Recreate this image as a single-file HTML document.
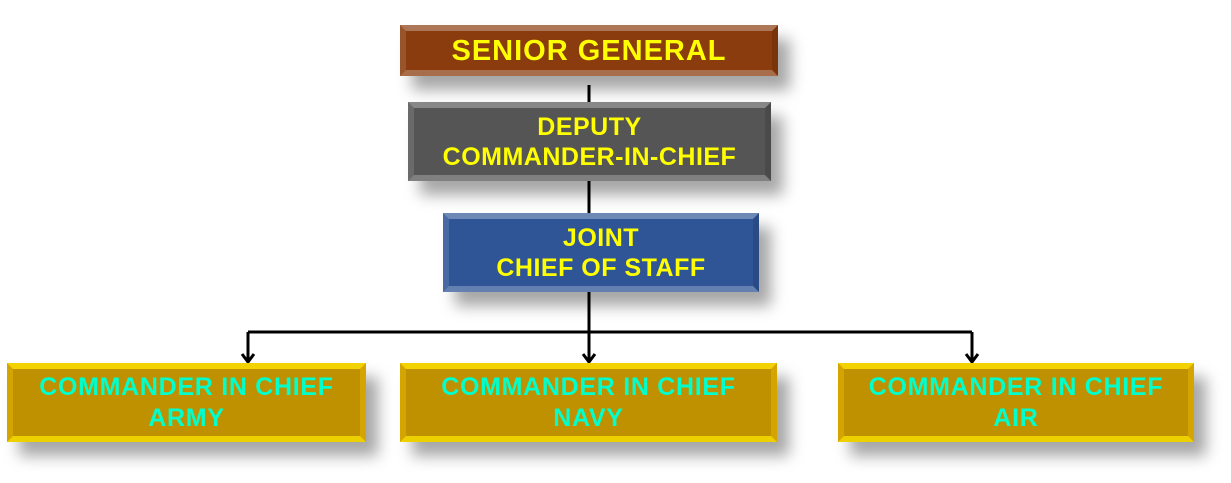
<!DOCTYPE html>
<html><head><style>
body{margin:0;width:1231px;height:483px;background:#fff;position:relative;overflow:hidden;font-family:"Liberation Sans",sans-serif;font-weight:bold}
.b{position:absolute;display:flex;align-items:center;justify-content:center;text-align:center;line-height:30px;font-size:25px;letter-spacing:0.5px;color:#ffff00;box-shadow:12px 14px 14px rgba(0,0,0,.35)}
.b::before{content:"";position:absolute;inset:0;border-style:solid;border-width:6px;border-top-color:rgba(255,255,255,.3);border-left-color:rgba(255,255,255,.12);border-right-color:rgba(0,0,0,.12);border-bottom-color:rgba(255,255,255,.25)}
.b span{position:relative}
.g{background:#bf9000;color:#00ffcc;line-height:31px;font-size:25px;letter-spacing:0.7px}
.g::before{border-top-color:#f2d200;border-bottom-color:#ecd000;border-left-color:#d4a400;border-right-color:#d4a400}
</style></head><body>
<svg width="1231" height="483" style="position:absolute;left:0;top:0">
<g stroke="#000" stroke-width="3" fill="none">
<line x1="589" y1="85" x2="589" y2="102"/>
<line x1="589" y1="181" x2="589" y2="213"/>
<line x1="589" y1="292" x2="589" y2="362"/>
<line x1="248" y1="332" x2="972" y2="332"/>
<line x1="248" y1="332" x2="248" y2="362"/>
<line x1="972" y1="332" x2="972" y2="362"/>
<polyline points="242,354 248,362 254,354"/>
<polyline points="583,354 589,362 595,354"/>
<polyline points="966,354 972,362 978,354"/>
</g></svg>
<div class="b" style="left:400px;top:25px;width:378px;height:51px;background:#8a3c0e;font-size:29px;letter-spacing:1px"><span>SENIOR GENERAL</span></div>
<div class="b" style="left:408px;top:102px;width:363px;height:79px;background:#555"><span>DEPUTY<br>COMMANDER-IN-CHIEF</span></div>
<div class="b" style="left:443px;top:213px;width:316px;height:79px;background:#2f5597"><span>JOINT<br>CHIEF OF STAFF</span></div>
<div class="b g" style="left:7px;top:363px;width:359px;height:79px"><span>COMMANDER IN CHIEF<br>ARMY</span></div>
<div class="b g" style="left:400px;top:363px;width:377px;height:79px"><span>COMMANDER IN CHIEF<br>NAVY</span></div>
<div class="b g" style="left:838px;top:363px;width:356px;height:79px"><span>COMMANDER IN CHIEF<br>AIR</span></div>
</body></html>
